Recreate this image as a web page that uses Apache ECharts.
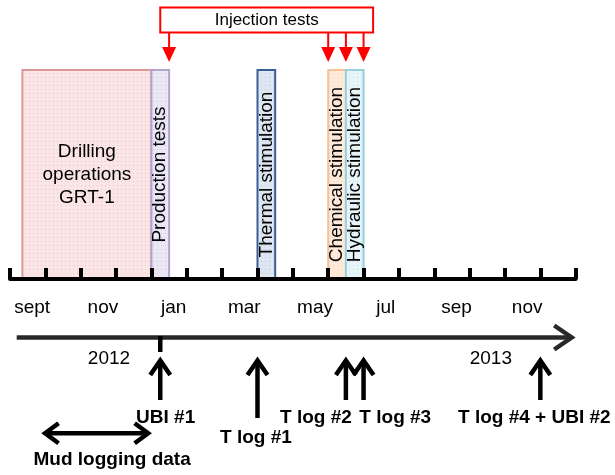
<!DOCTYPE html>
<html><head><meta charset="utf-8">
<script src="https://cdn.jsdelivr.net/npm/echarts@6/dist/echarts.min.js"></script>
<style>html,body{margin:0;padding:0;background:#fff}#c{width:615px;height:475px}</style>
</head><body><div id="c"></div>
<script>
// ---------------- DATA (months counted from 1 Sept 2012) ----------------
const months = ['sept','oct','nov','dec','jan','feb','mar','apr','may','jun','jul','aug','sep','oct','nov','dec'];
const phaseNames = ['Drilling\noperations\nGRT-1','Production tests','Thermal stimulation','Chemical stimulation','Hydraulic stimulation'];
const phaseStart = [0.35, 4.0, 7.0, 9.0, 9.5];
const phaseEnd   = [4.0, 4.5, 7.5, 9.5, 10.0];
const injectionLabel = 'Injection tests';
const injectionSpan = [4.25, 10.27];
const injectionAt = [4.5, 9.0, 9.5, 10.0];
const logNames = ['UBI #1','T log #1','T log #2','T log #3','T log #4 + UBI #2'];
const logAt = [4.25, 7.0, 9.5, 10.0, 15.0];
const mudLabel = 'Mud logging data';
const mudSpan = [0.95, 3.95];
const years = ['2012','2013'];
const yearLabelAt = [2.8, 13.6];
const yearBreakAt = [4.25];
const timelineSpan = [0.19, 15.93];

// ---------------- LAYOUT / STYLE ----------------
const FONT = '"Liberation Sans", Arial, Helvetica, sans-serif';
const L = {
  injTop: 7.5, injBottom: 32.5, injHead: 47, injTip: 62, injTextY: 20,
  timelineY: 337.5, yearLabelY: 359, breakTop: 336, breakBottom: 352,
  logTip: 359, logBottom: 400, logBottomLong: 418, logLabelY: 418, logLabelYLong: 438,
  mudY: 433.3, mudLabelY: 460, mudLabelDx: 15.5
};
const logLabelDx = [5.4, -1.5, -30, 31.7, -6];
const logLong = [false, true, false, false, false];
const phaseVertical = [false, true, true, true, true];
const phaseStyles = [
  {stroke:'#dc9898', bg:'#fae6e6', dot:'#efc2c2'},
  {stroke:'#b3a3cf', bg:'#ebe7f4', dot:'#d2c9e6'},
  {stroke:'#3b5f95', bg:'#dde6f1', dot:'#bccde3'},
  {stroke:'#f7c195', bg:'#fdeadb', dot:'#f8d4b6'},
  {stroke:'#97cfe0', bg:'#e7f4f8', dot:'#bfe1ea'}
];
function dotPattern(bg, dot) {
  const c = document.createElement('canvas'); c.width = 4; c.height = 4;
  const g = c.getContext('2d'); g.fillStyle = bg; g.fillRect(0,0,4,4);
  g.fillStyle = dot; g.fillRect(1,1,1,1);
  return {image: c, repeat: 'repeat'};
}
function upArrow(x, tip, bottom, color, w) {
  return [
    {type:'polyline', shape:{points:[[x, tip+3],[x, bottom]]}, style:{stroke:color, lineWidth:w, fill:null}},
    {type:'polyline', shape:{points:[[x-10, tip+16],[x, tip+1.5],[x+10, tip+16]]}, style:{stroke:color, lineWidth:w, fill:null, lineJoin:'miter'}}
  ];
}

const chart = echarts.init(document.getElementById('c'), null, {renderer:'canvas'});
const option = {
  animation: false,
  backgroundColor: '#fff',
  grid: {left: 10, right: 39.3, top: 70, bottom: 196},
  xAxis: [
    {type:'value', min:0, max:16, interval:1, z:10,
     axisLine:{lineStyle:{color:'#000', width:4}},
     axisTick:{inside:true, length:11, lineStyle:{color:'#000', width:4}},
     axisLabel:{show:false}, splitLine:{show:false}},
    {type:'category', data: months, boundaryGap:true, position:'bottom', z:10,
     axisLine:{show:false}, axisTick:{show:false}, splitLine:{show:false},
     axisLabel:{interval:1, fontSize:19, fontFamily:FONT, color:'#000', margin:19, padding:[0,0,0,9]}}
  ],
  yAxis: {type:'value', min:0, max:1, show:false},
  series: [
    { // phases
      type:'custom', xAxisIndex:0, clip:false, z:1,
      data: phaseStart.map((s,i)=>[s, phaseEnd[i], i]),
      renderItem: function(params, api){
        const i = api.value(2);
        const p0 = api.coord([api.value(0), 1]);
        const p1 = api.coord([api.value(1), 0]);
        const st = phaseStyles[i];
        const cx = (p0[0]+p1[0])/2, cy = (p0[1]+p1[1])/2;
        return {type:'group', children:[
          {type:'rect', shape:{x:p0[0], y:p0[1], width:p1[0]-p0[0], height:p1[1]-p0[1]},
           style:{fill: dotPattern(st.bg, st.dot), stroke: st.stroke, lineWidth:2}},
          {type:'text', x:cx, y:cy, rotation: phaseVertical[i] ? Math.PI/2 : 0,
           style:{text: phaseNames[i], fill:'#000', font:'19px '+FONT, align:'center', verticalAlign:'middle', lineHeight:23}}
        ]};
      }
    },
    { // injection box
      type:'custom', xAxisIndex:0, clip:false, z:3,
      data: [[injectionSpan[0], injectionSpan[1]]],
      renderItem: function(params, api){
        const x0 = api.coord([api.value(0), 0])[0];
        const x1 = api.coord([api.value(1), 0])[0];
        return {type:'group', children:[
          {type:'rect', shape:{x:x0, y:L.injTop, width:x1-x0, height:L.injBottom-L.injTop},
           style:{fill:'#fff', stroke:'#f00', lineWidth:2}},
          {type:'text', x:(x0+x1)/2, y:L.injTextY,
           style:{text: injectionLabel, fill:'#000', font:'17px '+FONT, align:'center', verticalAlign:'middle'}}
        ]};
      }
    },
    { // injection arrows
      type:'custom', xAxisIndex:0, clip:false, z:3,
      data: injectionAt.map(v=>[v]),
      renderItem: function(params, api){
        const x = api.coord([api.value(0), 0])[0];
        return {type:'group', children:[
          {type:'line', shape:{x1:x, y1:L.injBottom, x2:x, y2:L.injHead+1}, style:{stroke:'#f00', lineWidth:2}},
          {type:'polygon', shape:{points:[[x-7, L.injHead],[x+7, L.injHead],[x, L.injTip]]}, style:{fill:'#f00'}}
        ]};
      }
    },
    { // timeline arrow
      type:'custom', xAxisIndex:0, clip:false, z:3,
      data: [[timelineSpan[0], timelineSpan[1]]],
      renderItem: function(params, api){
        const x0 = api.coord([api.value(0), 0])[0];
        const x1 = api.coord([api.value(1), 0])[0];
        const y = L.timelineY;
        return {type:'group', children:[
          {type:'line', shape:{x1:x0, y1:y, x2:x1-2, y2:y}, style:{stroke:'#282828', lineWidth:4.5}},
          {type:'polyline', shape:{points:[[x1-19, y-12],[x1-1.5, y],[x1-19, y+12]]}, style:{stroke:'#282828', lineWidth:4.5, fill:null, lineJoin:'miter'}}
        ]};
      }
    },
    { // year break marker
      type:'custom', xAxisIndex:0, clip:false, z:3,
      data: yearBreakAt.map(v=>[v]),
      renderItem: function(params, api){
        const x = api.coord([api.value(0), 0])[0];
        return {type:'line', shape:{x1:x, y1:L.breakTop, x2:x, y2:L.breakBottom}, style:{stroke:'#000', lineWidth:4.5}};
      }
    },
    { // year labels
      type:'custom', xAxisIndex:0, clip:false, z:3,
      data: yearLabelAt.map((v,i)=>[v, i]),
      renderItem: function(params, api){
        const x = api.coord([api.value(0), 0])[0];
        return {type:'text', x:x, y:L.yearLabelY,
          style:{text: years[api.value(1)], fill:'#000', font:'19px '+FONT, align:'center', verticalAlign:'middle'}};
      }
    },
    { // logs
      type:'custom', xAxisIndex:0, clip:false, z:3,
      data: logAt.map((v,i)=>[v, i]),
      renderItem: function(params, api){
        const i = api.value(1);
        const x = api.coord([api.value(0), 0])[0];
        const bottom = logLong[i] ? L.logBottomLong : L.logBottom;
        const ly = logLong[i] ? L.logLabelYLong : L.logLabelY;
        return {type:'group', children: upArrow(x, L.logTip, bottom, '#000', 4.5).concat([
          {type:'text', x: x + logLabelDx[i], y: ly,
           style:{text: logNames[i], fill:'#000', font:'bold 19px '+FONT, align:'center', verticalAlign:'middle'}}
        ])};
      }
    },
    { // mud logging
      type:'custom', xAxisIndex:0, clip:false, z:3,
      data: [[mudSpan[0], mudSpan[1]]],
      renderItem: function(params, api){
        const x0 = api.coord([api.value(0), 0])[0];
        const x1 = api.coord([api.value(1), 0])[0];
        const y = L.mudY;
        return {type:'group', children:[
          {type:'line', shape:{x1:x0+2, y1:y, x2:x1-2, y2:y}, style:{stroke:'#000', lineWidth:4.5}},
          {type:'polyline', shape:{points:[[x0+15, y-10],[x0+1.5, y],[x0+15, y+10]]}, style:{stroke:'#000', lineWidth:4.5, fill:null}},
          {type:'polyline', shape:{points:[[x1-15, y-10],[x1-1.5, y],[x1-15, y+10]]}, style:{stroke:'#000', lineWidth:4.5, fill:null}},
          {type:'text', x:(x0+x1)/2 + L.mudLabelDx, y:L.mudLabelY,
           style:{text: mudLabel, fill:'#000', font:'bold 19px '+FONT, align:'center', verticalAlign:'middle'}}
        ]};
      }
    }
  ]
};
chart.setOption(option);
</script>
</body></html>
